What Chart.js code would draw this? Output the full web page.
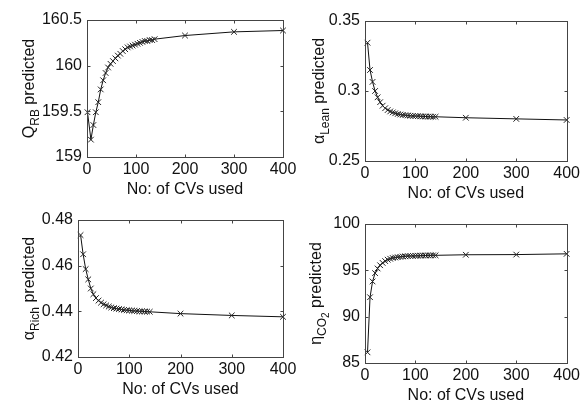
<!DOCTYPE html>
<html>
<head>
<meta charset="utf-8">
<script src="https://cdn.jsdelivr.net/npm/chart.js@4.4.0/dist/chart.umd.min.js"></script>
<style>
  html, body { margin: 0; padding: 0; background: #fff; }
  #wrap { position: relative; width: 583px; height: 403px; overflow: hidden; }
  #wrap canvas { position: absolute; left: 0; top: 0; pointer-events: none; }
</style>
</head>
<body>
<div id="wrap">
  <canvas id="qrb" width="583" height="403"></canvas>
  <canvas id="lean" width="583" height="403"></canvas>
  <canvas id="rich" width="583" height="403"></canvas>
  <canvas id="eta" width="583" height="403"></canvas>
</div>
<script>
// numero de CVs usados (eixo x)
const cvCount = [5, 10, 15, 20, 25, 30, 35, 40, 45, 50, 55, 60, 65, 70, 75, 80, 85, 90, 95, 100,
  105, 110, 115, 120, 125, 130, 135, 140, 200, 300, 400]
const cvCountQrb = [1, 8, 13, 18, 23, 28, 33, 38, 43, 48, 53, 58, 63, 68, 73, 78, 83, 88, 93, 98,
  103, 108, 113, 118, 123, 128, 133, 138, 200, 300, 400]

// valores previstos
const qrbPred = [159.49, 159.19, 159.35, 159.49, 159.60, 159.74, 159.84, 159.92, 159.98, 160.02,
  160.05, 160.08, 160.11, 160.13, 160.16, 160.18, 160.20, 160.21, 160.22, 160.23,
  160.24, 160.25, 160.26, 160.27, 160.27, 160.28, 160.28, 160.29, 160.33, 160.37, 160.385]
const leanPred = [0.3345, 0.3150, 0.3065, 0.3000, 0.2955, 0.2920, 0.2895, 0.2877, 0.2864, 0.2854,
  0.2847, 0.2841, 0.2836, 0.2832, 0.2829, 0.2827, 0.2825, 0.2823, 0.2822, 0.2821,
  0.2820, 0.2819, 0.2818, 0.2818, 0.2817, 0.2817, 0.2816, 0.2816, 0.2809, 0.2801, 0.2793]
const richPred = [0.4734, 0.4650, 0.4585, 0.4540, 0.4500, 0.4475, 0.4458, 0.4447, 0.4438, 0.4431,
  0.4426, 0.4421, 0.4417, 0.4414, 0.4412, 0.4410, 0.4408, 0.4406, 0.4405, 0.4404,
  0.4403, 0.4402, 0.4401, 0.4400, 0.4400, 0.4399, 0.4399, 0.4398, 0.4390, 0.4382, 0.4376]
const etaPred = [86.15, 92.1, 93.8, 94.7, 95.2, 95.55, 95.8, 96.0, 96.15, 96.25,
  96.33, 96.38, 96.42, 96.46, 96.49, 96.51, 96.53, 96.55, 96.56, 96.57,
  96.58, 96.59, 96.60, 96.60, 96.61, 96.61, 96.62, 96.62, 96.68, 96.70, 96.78]

// ticks
const xTicks = [0, 100, 200, 300, 400]
const qrbTicks = [159, 159.5, 160, 160.5]
const leanTicks = [0.25, 0.3, 0.35]
const richTicks = [0.42, 0.44, 0.46, 0.48]
const etaTicks = [85, 90, 95, 100]

const xLabel = 'No: of CVs used'
const FONT = "'Liberation Sans', Arial, sans-serif"
const Y_W = 50, X_H = 20

// desenha a caixa, ticks internos e os titulos (com subscritos)
const boxPlugin = {
  id: 'matlabBox',
  afterDraw(chart, args, opts) {
    const { ctx, chartArea: a, scales } = chart
    const L = Math.round(a.left) + 0.5, R = Math.round(a.right) + 0.5
    const T = Math.round(a.top) + 0.5, B = Math.round(a.bottom) + 0.5
    ctx.save()
    ctx.strokeStyle = '#444'
    ctx.lineWidth = 1
    ctx.strokeRect(L, T, R - L, B - T)
    ctx.beginPath()
    scales.x.ticks.forEach(t => {
      const px = Math.round(scales.x.getPixelForValue(t.value)) + 0.5
      ctx.moveTo(px, B); ctx.lineTo(px, B - 3)
      ctx.moveTo(px, T); ctx.lineTo(px, T + 3)
    })
    scales.y.ticks.forEach(t => {
      const py = Math.round(scales.y.getPixelForValue(t.value)) + 0.5
      ctx.moveTo(L, py); ctx.lineTo(L + 3, py)
      ctx.moveTo(R, py); ctx.lineTo(R - 3, py)
    })
    ctx.stroke()

    ctx.fillStyle = '#111'
    ctx.font = '16px ' + FONT
    ctx.textAlign = 'center'
    ctx.textBaseline = 'alphabetic'
    ctx.fillText(xLabel, (a.left + a.right) / 2, a.bottom + opts.xGap)

    // titulo do eixo y, rodado
    const sizes = [16, 12, 10], drops = [0, 5, 8]
    ctx.textAlign = 'left'
    let total = 0
    opts.yParts.forEach(p => {
      ctx.font = sizes[p.s] + 'px ' + FONT
      total += ctx.measureText(p.t).width
    })
    ctx.translate(opts.yBase, (a.top + a.bottom) / 2)
    ctx.rotate(-Math.PI / 2)
    let x = -total / 2
    opts.yParts.forEach(p => {
      ctx.font = sizes[p.s] + 'px ' + FONT
      ctx.fillText(p.t, x, drops[p.s])
      x += ctx.measureText(p.t).width
    })
    ctx.restore()
  }
}

function makeChart(id, xs, ys, yTicks, area, yParts, yBase) {
  const ctx = document.getElementById(id).getContext('2d')
  return new Chart(ctx, {
    type: 'line',
    data: {
      datasets: [{
        data: xs.map((x, i) => ({ x: x, y: ys[i] })),
        borderColor: '#111',
        borderWidth: 1,
        pointStyle: 'crossRot',
        pointRadius: 4,
        pointBorderColor: '#222',
        pointBorderWidth: 1,
        tension: 0,
        fill: false,
        clip: false
      }]
    },
    options: {
      responsive: false,
      animation: false,
      events: [],
      layout: {
        padding: {
          left: area.left - Y_W,
          top: area.top,
          right: 583 - area.right,
          bottom: 403 - area.bottom - X_H
        }
      },
      plugins: {
        legend: { display: false },
        tooltip: { enabled: false },
        matlabBox: { yParts: yParts, yBase: yBase, xGap: 37 }
      },
      scales: {
        x: {
          type: 'linear',
          min: xTicks[0],
          max: xTicks[xTicks.length - 1],
          grid: { display: false, drawTicks: false },
          border: { display: false },
          afterBuildTicks: s => { s.ticks = xTicks.map(v => ({ value: v })) },
          afterFit: s => { s.height = X_H },
          ticks: {
            padding: 3,
            color: '#111',
            maxRotation: 0,
            font: { family: FONT, size: 16 },
            callback: v => String(+Number(v).toFixed(6))
          }
        },
        y: {
          type: 'linear',
          min: yTicks[0],
          max: yTicks[yTicks.length - 1],
          grid: { display: false, drawTicks: false },
          border: { display: false },
          afterBuildTicks: s => { s.ticks = yTicks.map(v => ({ value: v })) },
          afterFit: s => { s.width = Y_W },
          ticks: {
            padding: 5,
            color: '#111',
            font: { family: FONT, size: 16 },
            callback: v => String(+Number(v).toFixed(6))
          }
        }
      }
    },
    plugins: [boxPlugin]
  })
}

makeChart('qrb', cvCountQrb, qrbPred, qrbTicks,
  { left: 87, top: 20, right: 283, bottom: 157 },
  [{ t: 'Q', s: 0 }, { t: 'RB', s: 1 }, { t: ' predicted', s: 0 }], 34)
makeChart('lean', cvCount, leanPred, leanTicks,
  { left: 365, top: 21, right: 568, bottom: 161 },
  [{ t: 'α', s: 0 }, { t: 'Lean', s: 1 }, { t: ' predicted', s: 0 }], 324)
makeChart('rich', cvCount, richPred, richTicks,
  { left: 78, top: 220, right: 283, bottom: 357 },
  [{ t: 'α', s: 0 }, { t: 'Rich', s: 1 }, { t: ' predicted', s: 0 }], 34)
makeChart('eta', cvCount, etaPred, etaTicks,
  { left: 365, top: 224, right: 568, bottom: 363 },
  [{ t: 'η', s: 0 }, { t: 'CO', s: 1 }, { t: '2', s: 2 }, { t: ' predicted', s: 0 }], 321)
</script>
</body>
</html>
